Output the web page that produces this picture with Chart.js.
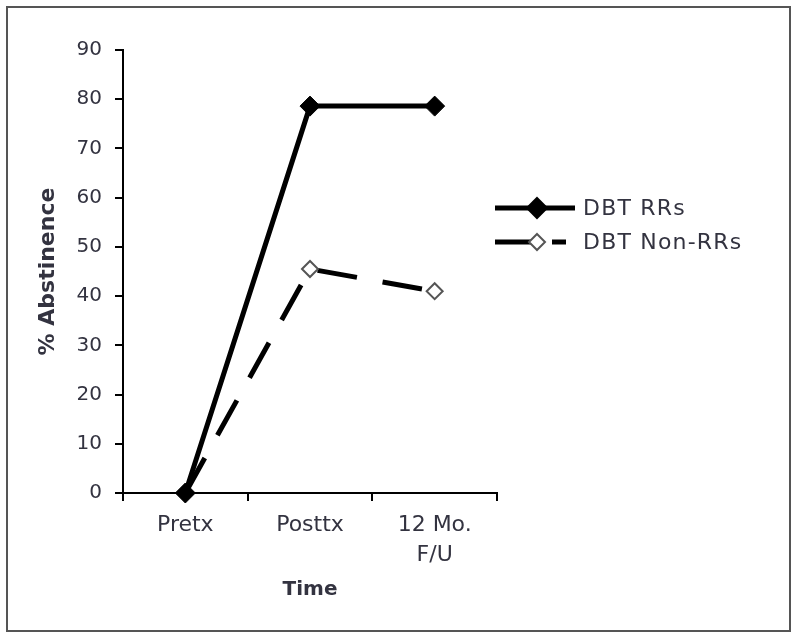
<!DOCTYPE html>
<html>
<head>
<meta charset="utf-8">
<script src="https://cdn.jsdelivr.net/npm/chart.js@4"></script>
<style>
  body { margin: 0; background: #fff; }
  #frame { position: absolute; left: 6px; top: 6px; width: 781px; height: 622px; border: 2px solid #555; }
  #chart { display: block; }
</style>
</head>
<body>
<div id="frame"><canvas id="chart" width="781" height="622"></canvas></div>
<script>
const timepoints = ["Pretx", "Posttx", ["12 Mo.", "F/U"]];
const rrValues = [0, 78.6, 78.6];
const nonRrValues = [0, 45.5, 41];
const yTicks = [0, 10, 20, 30, 40, 50, 60, 70, 80, 90];

const textColor = "#333340";
const fontFamily = "'DejaVu Sans', Verdana, sans-serif";

// legend drawn by hand: line + marker like the original
const lineLegend = {
    id: "lineLegend",
    afterDraw(chart) {
        const ctx = chart.ctx;
        const items = [
            { label: "DBT RRs", y: 200, dash: [], fill: "#000", stroke: "#000", r: 10 },
            { label: "DBT Non-RRs", y: 234, dash: [42, 15], fill: "#fff", stroke: "#555", r: 8 }
        ];
        items.forEach(it => {
            ctx.save();
            ctx.lineWidth = 5;
            ctx.strokeStyle = "#000";
            ctx.setLineDash(it.dash);
            ctx.beginPath();
            ctx.moveTo(487, it.y);
            ctx.lineTo(it.dash.length ? 558 : 567, it.y);
            ctx.stroke();
            ctx.setLineDash([]);
            ctx.beginPath();
            ctx.moveTo(529, it.y - it.r);
            ctx.lineTo(529 + it.r, it.y);
            ctx.lineTo(529, it.y + it.r);
            ctx.lineTo(529 - it.r, it.y);
            ctx.closePath();
            ctx.fillStyle = it.fill;
            ctx.fill();
            ctx.lineWidth = 2;
            ctx.strokeStyle = it.stroke;
            ctx.stroke();
            ctx.fillStyle = textColor;
            ctx.font = "22px " + fontFamily;
            ctx.letterSpacing = "1.2px";
            ctx.textBaseline = "middle";
            ctx.fillText(it.label, 575, it.y + 1);
            ctx.restore();
        });
    }
};

new Chart(document.getElementById("chart"), {
    type: "line",
    data: {
        labels: timepoints,
        datasets: [
            {
                label: "DBT RRs",
                data: rrValues,
                borderColor: "#000",
                borderWidth: 5,
                pointStyle: "rectRot",
                pointRadius: 10,
                pointBackgroundColor: "#000",
                pointBorderColor: "#000",
                pointBorderWidth: 1,
                clip: false
            },
            {
                label: "DBT Non-RRs",
                data: nonRrValues,
                borderColor: "#000",
                borderWidth: 5,
                borderDash: [40, 26],
                pointStyle: "rectRot",
                pointRadius: 8,
                pointBackgroundColor: "#fff",
                pointBorderColor: "#555",
                pointBorderWidth: 2,
                clip: false
            }
        ]
    },
    options: {
        responsive: false,
        animation: false,
        layout: { padding: { top: 42, right: 292, left: 0, bottom: 0 } },
        plugins: { legend: { display: false }, tooltip: { enabled: false } },
        scales: {
            x: {
                offset: true,
                afterFit: s => { s.height = 137; },
                grid: { offset: true, drawOnChartArea: false, tickLength: 8, color: "#000", lineWidth: 2 },
                border: { color: "#000", width: 2 },
                ticks: { color: textColor, padding: 9, font: { family: fontFamily, size: 22, lineHeight: 1.36 } },
                title: { display: true, text: "Time", color: textColor, padding: { bottom: 28 },
                         font: { family: fontFamily, size: 20, weight: "bold" } }
            },
            y: {
                min: 0,
                max: 90,
                afterFit: s => { s.width = 115; },
                afterBuildTicks: s => { s.ticks = yTicks.map(v => ({ value: v })); },
                grid: { drawOnChartArea: false, tickLength: 8, color: "#000", lineWidth: 2 },
                border: { color: "#000", width: 2 },
                ticks: { color: textColor, padding: 13, font: { family: fontFamily, size: 20 } },
                title: { display: true, text: "% Abstinence", color: textColor, padding: { top: 27 },
                         font: { family: fontFamily, size: 22, weight: "bold" } }
            }
        }
    },
    plugins: [lineLegend]
});
</script>
</body>
</html>
